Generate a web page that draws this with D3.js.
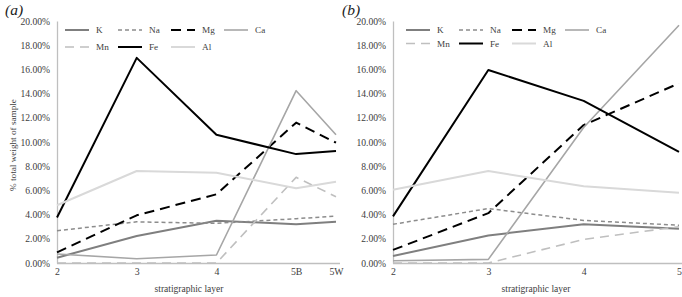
<!DOCTYPE html>
<html><head><meta charset="utf-8">
<script src="https://cdn.jsdelivr.net/npm/d3@7"></script>
<style>
body{margin:0;background:#fff}
svg text{font-family:"Liberation Serif","Times New Roman","Liberation Sans",sans-serif}
</style>
</head><body><svg id="c" width="682" height="297"></svg>
<script>
// ---------- data ----------
const layersA = ["2","3","4","5B","5W"];
const layerPosA = [2,3,4,5,5.5];
const layersB = ["2","3","4","5"];
const layerPosB = [2,3,4,5];
const yTicks = [0,2,4,6,8,10,12,14,16,18,20];
const elements = ["K","Na","Mg","Ca","Mn","Fe","Al"];

// panel (a) % total weight
const K_a  = [0.44, 2.23, 3.50, 3.20, 3.40];
const Na_a = [2.67, 3.40, 3.28, 3.66, 3.88];
const Mg_a = [0.88, 3.94, 5.68, 11.6, 9.94];
const Ca_a = [0.75, 0.35, 0.66, 14.24, 10.6];
const Mn_a = [0.00, 0.00, 0.00, 7.08, 5.48];
const Fe_a = [3.76, 16.95, 10.6, 9.0, 9.26];
const Al_a = [4.77, 7.60, 7.46, 6.17, 6.72];

// panel (b)
const K_b  = [0.58, 2.28, 3.20, 2.84];
const Na_b = [3.20, 4.50, 3.52, 3.12];
const Mg_b = [1.08, 4.12, 11.4, 14.85];
const Ca_b = [0.18, 0.30, 11.2, 19.65];
const Mn_b = [0.00, 0.00, 1.95, 3.00];
const Fe_b = [3.85, 15.95, 13.4, 9.18];
const Al_b = [6.05, 7.60, 6.35, 5.80];

const seriesA = {K:K_a, Na:Na_a, Mg:Mg_a, Ca:Ca_a, Mn:Mn_a, Fe:Fe_a, Al:Al_a};
const seriesB = {K:K_b, Na:Na_b, Mg:Mg_b, Ca:Ca_b, Mn:Mn_b, Fe:Fe_b, Al:Al_b};

const style = {
  K:  {c:"#7f7f7f", w:2,   d:null},
  Na: {c:"#8c8c8c", w:1.5, d:"4,3"},
  Mg: {c:"#000000", w:2,   d:"10,6"},
  Ca: {c:"#a6a6a6", w:1.6, d:null},
  Mn: {c:"#bfbfbf", w:1.6, d:"9,6"},
  Fe: {c:"#000000", w:2,   d:null},
  Al: {c:"#d9d9d9", w:2,   d:null}
};

const svg = d3.select("#c");

function panel(opt){
  const g = svg.append("g");
  const x = d3.scaleLinear().domain(opt.domain).range(opt.xr);
  const y = d3.scaleLinear().domain([0,20]).range([263,21]);

  const ya = g.append("g").attr("transform",`translate(${opt.xr[0]},0)`)
    .call(d3.axisLeft(y).tickValues(yTicks).tickSize(0).tickPadding(7).tickFormat(v=>v.toFixed(2)+"%"));
  ya.attr("font-family",null);
  ya.select(".domain").attr("stroke","#bfbfbf").attr("stroke-width",1.3);
  ya.selectAll("text").attr("font-size",9.6).attr("fill","#404040");

  const xa = g.append("g").attr("transform","translate(0,263.5)")
    .call(d3.axisBottom(x).tickValues(opt.pos).tickSize(0).tickPadding(5)
      .tickFormat((v,i)=>opt.labels[i]));
  xa.attr("font-family",null);
  xa.select(".domain").attr("stroke","#bfbfbf").attr("stroke-width",1.3)
    .attr("d",`M${opt.xr[0]},0H${opt.axisEnd}`);
  xa.selectAll("text").attr("font-size",9.8).attr("fill","#404040");

  const line = d3.line().x((d,i)=>x(opt.pos[i])).y(d=>y(d));
  elements.forEach(k=>{
    const s = style[k];
    g.append("path").datum(opt.series[k]).attr("d",line)
      .attr("fill","none").attr("stroke",s.c).attr("stroke-width",s.w)
      .attr("stroke-dasharray",s.d).attr("stroke-linejoin","round");
  });

  const lg = g.append("g");
  elements.forEach((k,i)=>{
    const col = i<4 ? i : i-4, row = i<4 ? 0 : 1;
    const lx = opt.legX + col*opt.legDx, ly = opt.legY[row];
    const s = style[k];
    lg.append("line").attr("x1",lx).attr("x2",lx+24).attr("y1",ly).attr("y2",ly)
      .attr("stroke",s.c).attr("stroke-width",s.w).attr("stroke-dasharray",s.d);
    lg.append("text").attr("x",lx+31).attr("y",ly).attr("dy","0.35em")
      .attr("font-size",9.2).attr("fill","#404040").text(k);
  });

  g.append("text").attr("x",opt.xTitleX).attr("y",292).attr("text-anchor","middle")
    .attr("font-size",9.5).attr("fill","#404040").text("stratigraphic layer");

  g.append("text").attr("x",opt.labX).attr("y",15).attr("font-size",15.5)
    .attr("font-style","italic").attr("fill","#222").text(opt.tag);
}

panel({domain:[2,5.5], xr:[57,336], pos:layerPosA, labels:layersA, series:seriesA,
  axisEnd:340, legX:65, legDx:53, legY:[30,47], xTitleX:189, labX:5, tag:"(a)"});
panel({domain:[2,5], xr:[393,679], pos:layerPosB, labels:layersB, series:seriesB,
  axisEnd:682, legX:406, legDx:53, legY:[30,43.5], xTitleX:536, labX:342, tag:"(b)"});

svg.append("text").attr("transform","translate(16,145) rotate(-90)")
  .attr("text-anchor","middle").attr("font-size",9.2).attr("fill","#404040")
  .text("% total weight of sample");
</script>
</body></html>
